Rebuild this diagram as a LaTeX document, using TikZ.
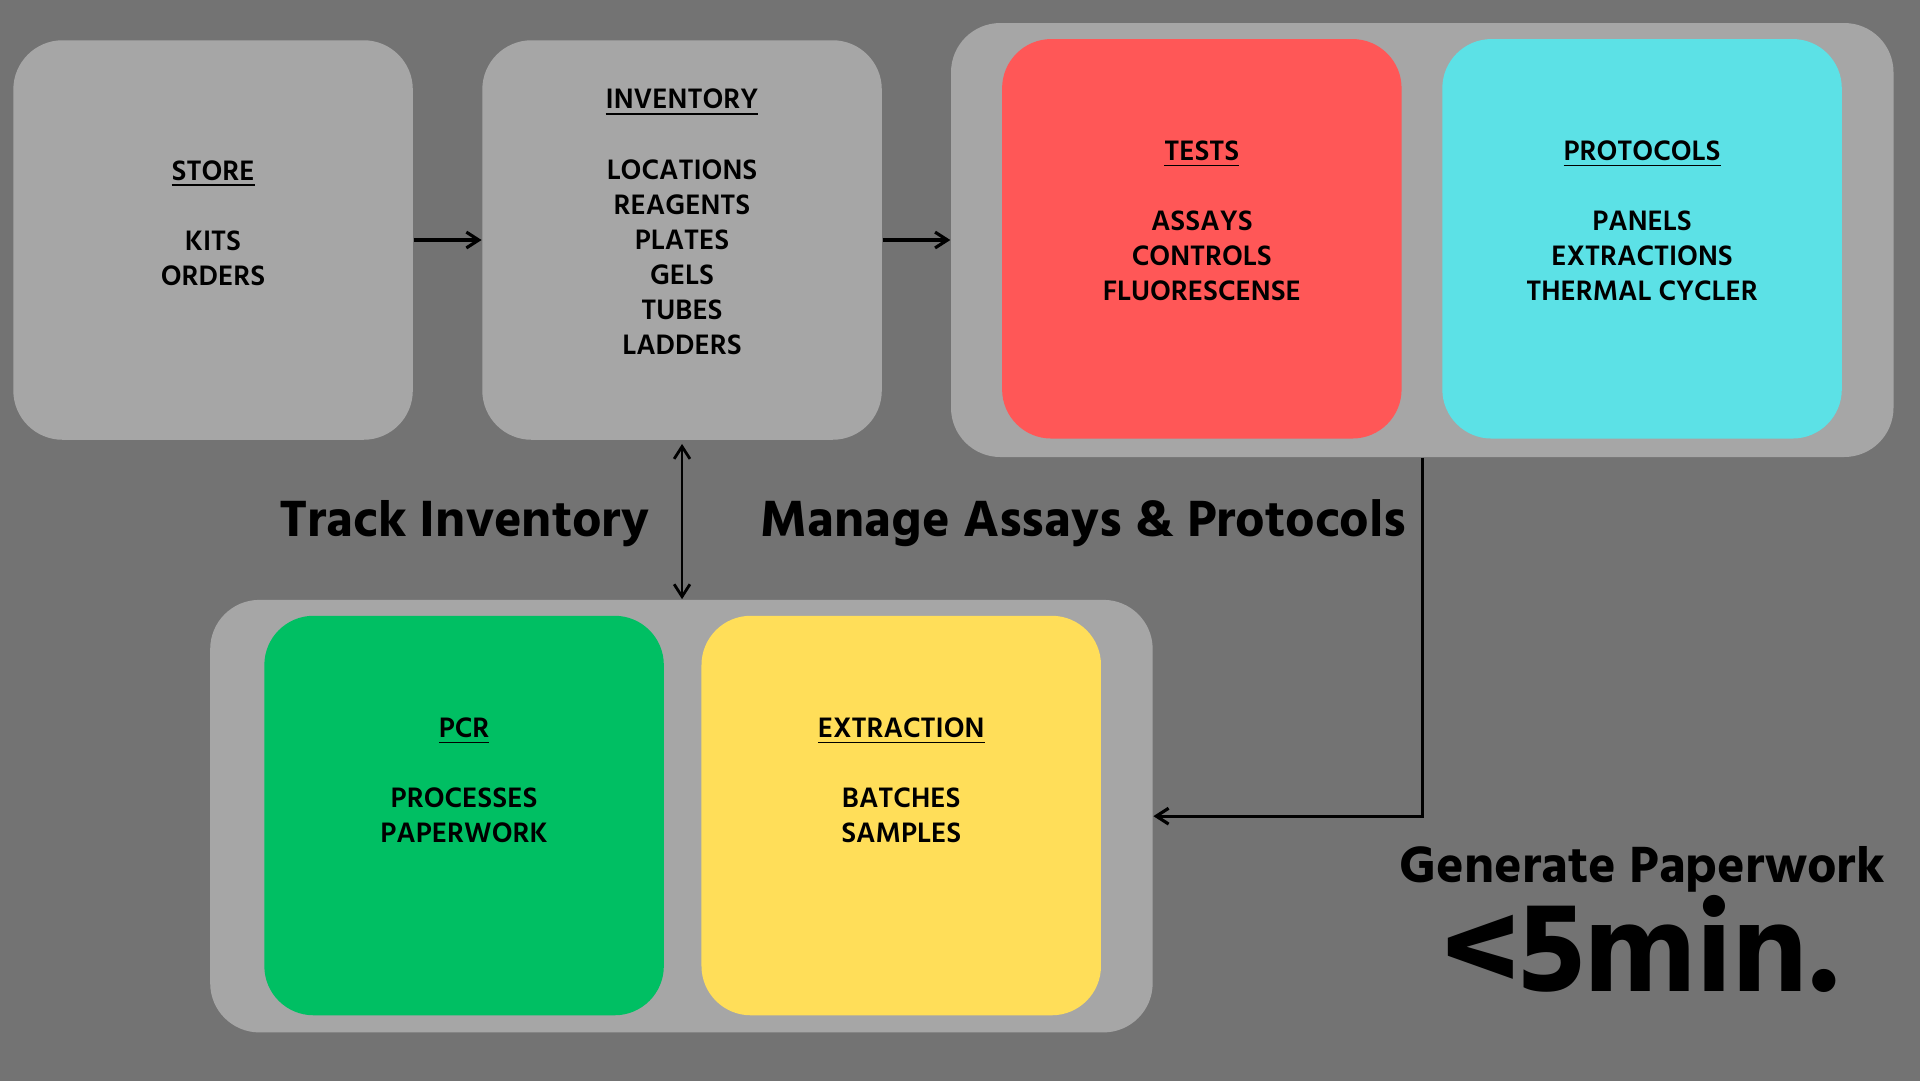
\documentclass[tikz,border=0pt]{standalone}
\usepackage{fontspec}
\setmainfont{Hind Siliguri}[BoldFont={* Bold}]
\newfontfamily\semifont{Hind Siliguri}[UprightFont={* SemiBold}]
\usetikzlibrary{
    positioning,
    calc,
    arrows.meta}

\definecolor{bggray}{HTML}{737373}
\definecolor{cardgray}{HTML}{A6A6A6}
\definecolor{testred}{HTML}{FF5757}
\definecolor{protocyan}{HTML}{5CE1E6}
\definecolor{pcrgreen}{HTML}{00BF63}
\definecolor{extryellow}{HTML}{FFDE59}

\tikzset{
    card/.style={rounded corners=14pt, minimum width=113.6pt, minimum height=113.6pt, inner sep=0pt},
    group/.style={fill=cardgray, rounded corners=14pt, minimum width=268pt, inner sep=0pt},
    cardtitle/.style={anchor=base, inner sep=0pt, font=\semifont\fontsize{8.2}{10}\selectfont},
    carditem/.style={anchor=base, inner sep=0pt, font=\semifont\fontsize{8.2}{10}\selectfont},
    bigtext/.style={anchor=base, inner sep=0pt, font=\bfseries\fontsize{14.85}{18}\selectfont},
    flow/.style={line width=0.9pt, -{Straight Barb[length=3.5pt, width=4.5pt, line width=0.9pt]}}
}

\begin{document}
\begin{tikzpicture}[x=0.012245cm, y=-0.012245cm]
\newcommand{\cardstep}{28.6}
\newcommand{\cardtext}[4]{
    \node[cardtitle] (#1-t) at ($(#1.center)+(0,#2)$) {\underline{#3}};
    \foreach \it [count=\k] in {#4}
    {
        \node[carditem] (#1-\k) at ($(#1.center)+(0,#2+\cardstep+\k*\cardstep)$) {\it};
    }
}

\useasboundingbox (0,0) rectangle (1568,882);
\fill[bggray] (-5,-5) rectangle (1573,887);

% top row
\node[card, fill=cardgray] (store) at (174,196) {};
\node[card, fill=cardgray] (inv) at (557,196) {};
\node[group, minimum height=123.4pt] (topgrp) at (1161.5,196) {};
\node[card, fill=testred] (tests) at (981.5,195) {};
\node[card, fill=protocyan] (proto) at (1341,195) {};

% bottom row
\node[group, minimum height=123pt] (botgrp) at (556.5,666.5) {};
\node[card, fill=pcrgreen] (pcr) at (379,666) {};
\node[card, fill=extryellow] (extr) at (736,666) {};

\cardtext{store}{-49}{STORE}{KITS,ORDERS}
\cardtext{inv}{-107}{INVENTORY}{LOCATIONS,REAGENTS,PLATES,GELS,TUBES,LADDERS}
\cardtext{tests}{-64}{TESTS}{ASSAYS,CONTROLS,FLUORESCENSE}
\cardtext{proto}{-64}{PROTOCOLS}{PANELS,EXTRACTIONS,THERMAL CYCLER}
\cardtext{pcr}{-64}{PCR}{PROCESSES,PAPERWORK}
\cardtext{extr}{-64}{EXTRACTION}{BATCHES,SAMPLES}

\node[bigtext] (track) at (379,438) {Track Inventory};
\node[bigtext] (manage) at (885,438) {Manage Assays \& Protocols};
\node[bigtext] (gen) at (1341,721) {Generate Paperwork};
\node[bigtext, font=\bfseries\fontsize{37}{40}\selectfont] (fast) at (1341,810) {<5min.};

\draw[flow, line width=1.05pt] (store) -- (inv);
\draw[flow, line width=1.05pt] (inv) -- (topgrp);
\draw[flow, {Straight Barb[length=3.5pt, width=4.5pt, line width=0.8pt]}-{Straight Barb[length=3.5pt, width=4.5pt, line width=0.8pt]}, line width=0.8pt, shorten <=1pt] (inv.south) -- (inv.south |- botgrp.north);
\draw[flow] (topgrp.south) |- (botgrp.east);

\end{tikzpicture}
\end{document}
